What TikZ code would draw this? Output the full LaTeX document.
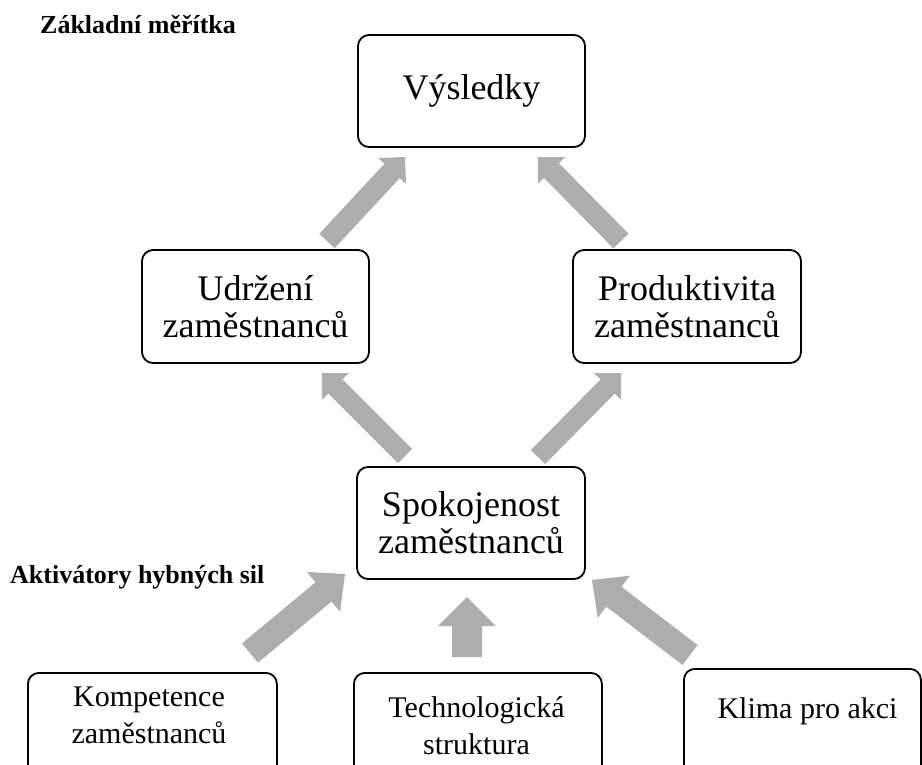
\documentclass[tikz,border=0pt]{standalone}
\usepackage{fontspec}
\setmainfont{Liberation Serif}
\usetikzlibrary{calc}
\definecolor{arrowgray}{RGB}{173,173,173}

% Block arrow: #1 tail, #2 tip, #3 shaft half width, #4 head half width, #5 head length
\newcommand{\blockarrow}[5]{%
  \path ($(#2)!#5!(#1)$) coordinate (bahead);
  \fill[arrowgray]
    ($(#1)!#3!90:(#2)$) -- ($(bahead)!#3!90:(#2)$) -- ($(bahead)!#4!90:(#2)$) --
    (#2) --
    ($(bahead)!#4!-90:(#2)$) -- ($(bahead)!#3!-90:(#2)$) -- ($(#1)!#3!-90:(#2)$) -- cycle;
}

\begin{document}
\begin{tikzpicture}[x=1pt,y=-1pt,
  box/.style={draw=black, line width=1.8pt, rounded corners=11pt, fill=white,
              inner sep=0pt, align=center},
  bigbox/.style={box, font=\fontsize{36}{37}\selectfont},
  smalltxt/.style={inner sep=0pt, align=center, font=\fontsize{30}{37}\selectfont},
  heading/.style={inner sep=0pt, anchor=base west, font=\bfseries\fontsize{26}{28}\selectfont},
]
\useasboundingbox (0,0) rectangle (922,764);
\clip (0,0) rectangle (922,764);

% headings
\node[heading] (hzm) at (40,33) {Základní měřítka};
\node[heading] (hahs) at (10,583) {Aktivátory hybných sil};

% upper boxes
\node[bigbox, minimum width=227pt, minimum height=112pt] (vys) at (471.5,91) {Výsledky};
\node[bigbox, minimum width=227pt, minimum height=113pt] (udr) at (255.5,306.5) {Udržení\\zaměstnanců};
\node[bigbox, minimum width=228pt, minimum height=113pt] (pro) at (687,306.5) {Produktivita\\zaměstnanců};
\node[bigbox, minimum width=228pt, minimum height=112pt] (spo) at (471,523) {Spokojenost\\zaměstnanců};

% lower boxes (running off the bottom edge)
\node[box, anchor=north west, minimum width=249pt, minimum height=140pt] (komb) at (27,672) {};
\node[box, anchor=north west, minimum width=248pt, minimum height=140pt] (tecb) at (353,672) {};
\node[box, anchor=north west, minimum width=237pt, minimum height=140pt] (klib) at (683,668) {};
\node[smalltxt] (komt) at (149,715) {Kompetence\\zaměstnanců};
\node[smalltxt] (tect) at (476.5,726) {Technologická\\struktura};
\node[smalltxt] (klit) at (807.5,711) {Klima pro akci};

% arrow end points
\coordinate (udr-out) at (327,241);  \coordinate (vys-inl) at (405,157);
\coordinate (pro-out) at (621,241);  \coordinate (vys-inr) at (538,157);
\coordinate (spo-outl) at (405,456); \coordinate (udr-in) at (322,373);
\coordinate (spo-outr) at (538,457); \coordinate (pro-in) at (621,373);
\coordinate (kom-out) at (250,653);  \coordinate (spo-inl) at (345,574);
\coordinate (tec-out) at (467,657);  \coordinate (spo-inc) at (467,597);
\coordinate (kli-out) at (690,655);  \coordinate (spo-inr) at (592,580);

\blockarrow{udr-out}{vys-inl}{10.5pt}{19pt}{19pt}
\blockarrow{pro-out}{vys-inr}{10.5pt}{19pt}{19pt}
\blockarrow{spo-outl}{udr-in}{10pt}{19pt}{19pt}
\blockarrow{spo-outr}{pro-in}{10pt}{19pt}{19pt}
\blockarrow{kom-out}{spo-inl}{12.5pt}{26pt}{28pt}
\blockarrow{tec-out}{spo-inc}{15pt}{29pt}{29pt}
\blockarrow{kli-out}{spo-inr}{12.5pt}{26.5pt}{27.5pt}
\end{tikzpicture}
\end{document}
